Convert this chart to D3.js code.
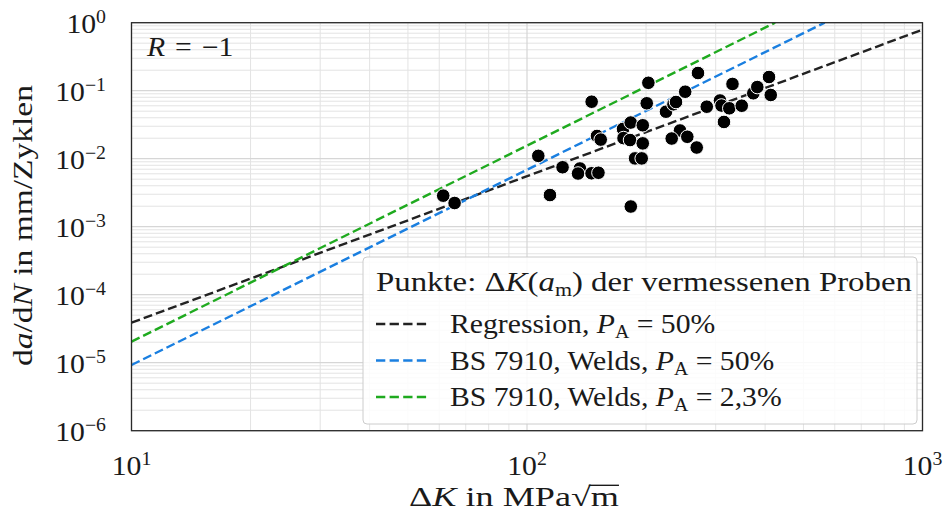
<!DOCTYPE html>
<html>
<head>
<meta charset="utf-8">
<script src="https://cdn.jsdelivr.net/npm/d3@7"></script>
<style>
  html, body { margin: 0; padding: 0; background: #fff; }
  svg { display: block; }
  text { font-family: "Liberation Serif", "DejaVu Serif", serif; fill: #1a1a1a; }
</style>
</head>
<body>
<svg id="chart" width="944" height="518"></svg>
<script>
// Measured specimens: stress intensity range ΔK (MPa√m) and crack growth rate da/dN (mm/cycle)
const deltaK = [61.4, 65.6, 106.8, 114.3, 145.7, 150.3, 153.6, 123.0, 136.1, 134.6,
  145.6, 151.6, 174.9, 182.9, 196.2, 175.4, 182.2, 196.2, 187.6, 195.0,
  183.0, 202.7, 200.8, 224.6, 234.6, 238.1, 251.2, 270.6, 243.7, 232.2,
  254.3, 268.6, 284.8, 307.6, 310.3, 324.7, 314.8, 330.8, 349.1, 373.4,
  382.2, 409.2, 413.3];
const dadN = [2.86e-3, 2.23e-3, 1.10e-2, 2.92e-3, 6.89e-2, 2.16e-2, 1.91e-2, 7.48e-3, 7.18e-3, 6.05e-3,
  6.10e-3, 6.21e-3, 2.74e-2, 3.40e-2, 3.10e-2, 2.01e-2, 1.88e-2, 1.68e-2, 1.01e-2, 1.01e-2,
  1.98e-3, 0.1306, 6.53e-2, 4.91e-2, 6.31e-2, 6.82e-2, 9.66e-2, 0.182, 2.60e-2, 1.98e-2,
  2.10e-2, 1.46e-2, 5.82e-2, 7.18e-2, 6.05e-2, 5.51e-2, 3.47e-2, 0.1256, 6.01e-2, 9.16e-2,
  0.1132, 0.159, 8.65e-2];

// Power-law lines (straight in log-log), given by their two end points
const regressionK = [10, 1000];
const regressionRate = [3.87e-5, 0.789];
const bs50K = [10, 566];
const bs50Rate = [9.25e-6, 1.0];
const bs23K = [10, 424];
const bs23Rate = [2.04e-5, 1.0];

const xTickExp = [1, 2, 3];
const yTickExp = [0, -1, -2, -3, -4, -5, -6];

const lineColors = { reg: "#222222", bs50: "#1a7fe0", bs23: "#1faa1f" };

const svg = d3.select("#chart");
const pLeft = 131.5, pRight = 922.5, pTop = 22.7, pBottom = 430.7;
const FS = 27;          // main font size
const SX = 1.1;         // horizontal widening so the serif face runs as wide as CM

const x = d3.scaleLog().domain([10, 1000]).range([pLeft, pRight]);
const y = d3.scaleLog().domain([1e-6, 1]).range([pBottom, pTop]);

svg.append("defs").append("clipPath").attr("id", "plotclip")
  .append("rect").attr("x", pLeft).attr("y", pTop).attr("width", pRight - pLeft).attr("height", pBottom - pTop);

// grid: minor then major
const grid = svg.append("g");
const minorX = [], minorY = [];
for (let e = 1; e < 3; e++) for (let m = 2; m <= 9; m++) minorX.push(m * Math.pow(10, e));
for (let e = -6; e < 0; e++) for (let m = 2; m <= 9; m++) minorY.push(m * Math.pow(10, e));
grid.selectAll(".mx").data(minorX).join("line")
  .attr("x1", d => x(d)).attr("x2", d => x(d)).attr("y1", pTop).attr("y2", pBottom)
  .attr("stroke", "#e3e3e3").attr("stroke-width", 1);
grid.selectAll(".my").data(minorY).join("line")
  .attr("y1", d => y(d)).attr("y2", d => y(d)).attr("x1", pLeft).attr("x2", pRight)
  .attr("stroke", "#e3e3e3").attr("stroke-width", 1);
grid.selectAll(".Mx").data(xTickExp).join("line")
  .attr("x1", d => x(Math.pow(10, d))).attr("x2", d => x(Math.pow(10, d))).attr("y1", pTop).attr("y2", pBottom)
  .attr("stroke", "#d6d6d6").attr("stroke-width", 1.2);
grid.selectAll(".My").data(yTickExp).join("line")
  .attr("y1", d => y(Math.pow(10, d))).attr("y2", d => y(Math.pow(10, d))).attr("x1", pLeft).attr("x2", pRight)
  .attr("stroke", "#d6d6d6").attr("stroke-width", 1.2);

// dashed fit lines
const plot = svg.append("g").attr("clip-path", "url(#plotclip)");
const lineGen = d3.line().x(d => x(d[0])).y(d => y(d[1]));
const series = [
  { k: regressionK, r: regressionRate, c: lineColors.reg },
  { k: bs50K, r: bs50Rate, c: lineColors.bs50 },
  { k: bs23K, r: bs23Rate, c: lineColors.bs23 }
];
plot.selectAll(".fit").data(series).join("path")
  .attr("d", s => lineGen(s.k.map((k, i) => [k, s.r[i]])))
  .attr("fill", "none").attr("stroke", s => s.c).attr("stroke-width", 2.4)
  .attr("stroke-dasharray", "9,4");

// specimen points
plot.selectAll(".pt").data(deltaK.map((k, i) => [k, dadN[i]])).join("circle")
  .attr("cx", d => x(d[0])).attr("cy", d => y(d[1])).attr("r", 6.8)
  .attr("fill", "#000").attr("stroke", "#fff").attr("stroke-width", 1);

// frame
svg.append("rect").attr("x", pLeft).attr("y", pTop).attr("width", pRight - pLeft).attr("height", pBottom - pTop)
  .attr("fill", "none").attr("stroke", "#2a2a2a").attr("stroke-width", 1.3);

// text placed in a group that is widened horizontally about its anchor point
function label(px, py, anchor, rotate) {
  const g = svg.append("g").attr("data-pos", `${px},${py}`).attr("data-rot", rotate || 0);
  const t = g.append("text").attr("text-anchor", anchor).attr("font-size", FS);
  setStretch(t, SX);
  return t;
}
function setStretch(t, sx) {
  const g = d3.select(t.node().parentNode);
  const [px, py] = g.attr("data-pos").split(",").map(Number);
  const rot = +g.attr("data-rot");
  g.attr("transform", `translate(${px},${py})` + (rot ? ` rotate(${rot})` : "") + ` scale(${sx},1)`);
}
// widen a text so that it spans the given width
function fitWidth(t, width) {
  setStretch(t, width / t.node().getComputedTextLength());
}
function powerLabel(px, py, anchor, exp) {
  const t = label(px, py, anchor);
  t.append("tspan").text("10");
  t.append("tspan").attr("dy", -10).attr("font-size", 18).text(exp < 0 ? "\u2212" + (-exp) : String(exp));
  return t;
}
yTickExp.forEach(e => powerLabel(106, y(Math.pow(10, e)) + 10, "end", e));
xTickExp.forEach(e => powerLabel(x(Math.pow(10, e)), 475, "middle", e));

// x-axis title
const xt = label(514, 506, "middle");
xt.append("tspan").text("Δ");
xt.append("tspan").attr("font-style", "italic").text("K");
xt.append("tspan").text(" in MPa√");
xt.append("tspan").text("m");
fitWidth(xt, 210);
{
  // overbar of the square root
  const node = xt.node();
  const n = node.getNumberOfChars();
  const ext = node.getExtentOfChar(n - 1);
  const rootExt = node.getExtentOfChar(n - 2);
  d3.select(node.parentNode).append("line")
    .attr("x1", rootExt.x + rootExt.width - 1.5).attr("x2", ext.x + ext.width)
    .attr("y1", rootExt.y + 3).attr("y2", rootExt.y + 3)
    .attr("stroke", "#1a1a1a").attr("stroke-width", 1.4);
}

// y-axis title
const yt = label(32, 225.5, "middle", -90);
yt.append("tspan").text("d");
yt.append("tspan").attr("font-style", "italic").text("a");
yt.append("tspan").text("/d");
yt.append("tspan").attr("font-style", "italic").text("N");
yt.append("tspan").text(" in mm/Zyklen");
fitWidth(yt, 281);

// load ratio annotation
const rt = label(147, 56, "start");
rt.append("tspan").attr("font-style", "italic").text("R");
rt.append("tspan").attr("dx", 9).text("=");
rt.append("tspan").attr("dx", 9).text("\u22121");

// legend
const lg = svg.append("g");
lg.append("rect").attr("x", 363).attr("y", 257).attr("width", 554).attr("height", 167).attr("rx", 4)
  .attr("fill", "#fff").attr("fill-opacity", 0.85).attr("stroke", "#cccccc").attr("stroke-width", 1);

const title = label(376, 291, "start");
title.append("tspan").text("Punkte: Δ");
title.append("tspan").attr("font-style", "italic").text("K");
title.append("tspan").text("(");
title.append("tspan").attr("font-style", "italic").text("a");
title.append("tspan").attr("dy", 5).attr("font-size", 18).text("m");
title.append("tspan").attr("dy", -5).text(") der vermessenen Proben");
fitWidth(title, 536);

const entries = [
  { c: lineColors.reg, pre: "Regression, ", val: " = 50%" },
  { c: lineColors.bs50, pre: "BS 7910, Welds, ", val: " = 50%" },
  { c: lineColors.bs23, pre: "BS 7910, Welds, ", val: " = 2,3%" }
];
entries.forEach((e, i) => {
  const cy = 324 + i * 36.5;
  lg.append("line").attr("x1", 376).attr("x2", 428).attr("y1", cy).attr("y2", cy)
    .attr("stroke", e.c).attr("stroke-width", 2.4).attr("stroke-dasharray", "9.3,4.3");
  const t = label(450, cy + 9, "start");
  t.append("tspan").text(e.pre);
  t.append("tspan").attr("font-style", "italic").text("P");
  t.append("tspan").attr("dy", 5).attr("font-size", 18).text("A");
  t.append("tspan").attr("dy", -5).text(e.val);
});
</script>
</body>
</html>
